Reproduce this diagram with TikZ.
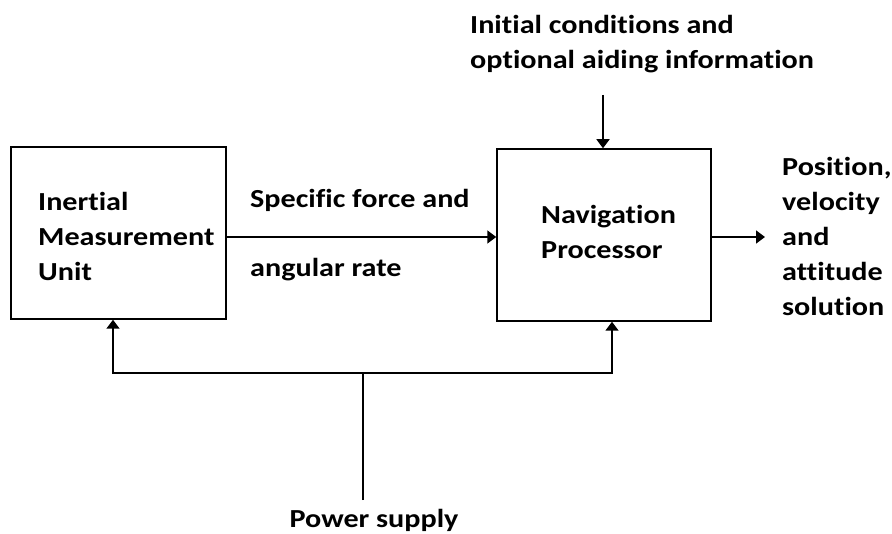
\documentclass[tikz,border=0pt]{standalone}
\usepackage{fontspec}
\setmainfont{Carlito}[Ligatures=NoCommon, FakeStretch=1.16]
\usetikzlibrary{arrows.meta}
\begin{document}
\begin{tikzpicture}[x=1pt,y=-1pt,
  blockbox/.style={draw, line width=1.5pt, inner sep=0pt},
  label/.style={inner sep=0pt, align=left, font=\fontsize{26}{35}\selectfont\bfseries},
  link/.style={line width=1.5pt, -{Triangle[width=13pt,length=9pt]}},
  wire/.style={line width=1.5pt}]
\useasboundingbox (0,0) rectangle (892,534);

% blocks
\node[blockbox, minimum width=215pt, minimum height=172pt] (imu) at (118.5,233) {};
\node[blockbox, minimum width=214pt, minimum height=172pt] (np) at (604,235) {};

% block texts
\node[label, anchor=west] (imutxt) at (38,236) {Inertial\\Measurement\\Unit};
\node[label, anchor=west] (nptxt) at (541,232) {Navigation\\Processor};

% signal labels
\node[label, anchor=west] (sf) at (250,200) {Specific force and};
\node[label, anchor=west] (ar) at (250,270) {angular rate};
\node[label, anchor=west] (init) at (470,44) {Initial conditions and\\optional aiding information};
\node[label, anchor=west] (out) at (782,236) {Position,\\velocity\\and\\attitude\\solution};
\node[label] (pwr) at (374,520) {Power supply};

% connection points
\coordinate (inittop) at (603,95);
\coordinate (outend) at (765,237);
\coordinate (busL) at (113,373);
\coordinate (busR) at (612,373);
\coordinate (busM) at (363,373);
\coordinate (pwrtop) at (363,500);

% connectors
\draw[link] (imu.east |- 0,237) -- (np.west |- 0,237);
\draw[link] (inittop) -- (inittop |- np.north);
\draw[link] (np.east |- 0,237) -- (outend);
\draw[wire] (pwrtop) -- (busM);
\draw[link] (busM) -- (busL) -- (busL |- imu.south);
\draw[link] (busM) -- (busR) -- (busR |- np.south);
\end{tikzpicture}
\end{document}
